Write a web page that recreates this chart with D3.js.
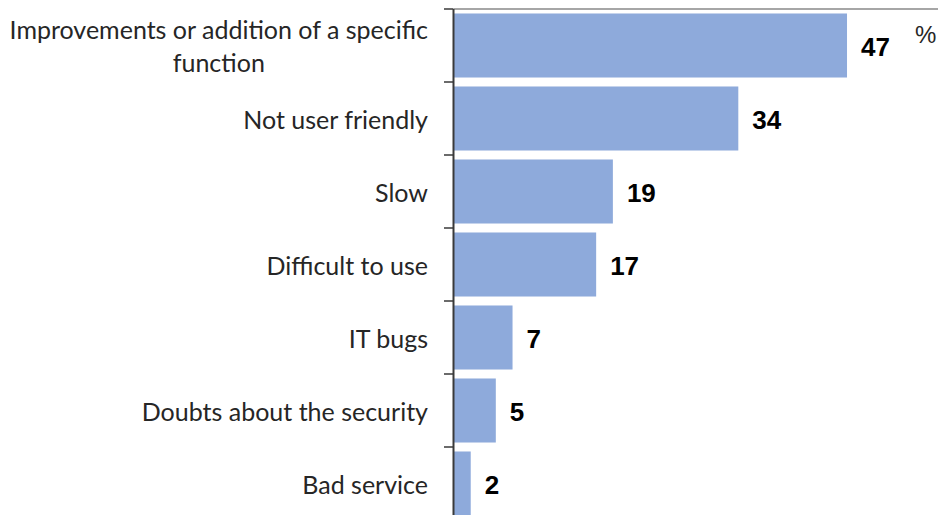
<!DOCTYPE html>
<html>
<head>
<meta charset="utf-8">
<script src="https://cdn.jsdelivr.net/npm/d3@7"></script>
<style>
  html, body { margin: 0; padding: 0; background: #fff; }
  svg { display: block; }
</style>
</head>
<body>
<svg id="chart" width="938" height="515"></svg>
<script>
// Reasons given, share of respondents (%)
const categories = [
  "Improvements or addition of a specific\nfunction",
  "Not user friendly",
  "Slow",
  "Difficult to use",
  "IT bugs",
  "Doubts about the security",
  "Bad service"
];
const values = [47, 34, 19, 17, 7, 5, 2];
const unitLabel = "%";

const svg = d3.select("#chart");
const W = 938, H = 515;
const axisX = 454;
const bandTop = 9, step = 73;

const x = d3.scaleLinear().domain([0, 58]).range([axisX, 939]);
const y = d3.scaleBand()
  .domain(categories)
  .range([bandTop, bandTop + step * categories.length])
  .paddingInner(0.123)
  .paddingOuter(0.0615);

const labelFont = "Lato, 'Open Sans', sans-serif";
const labelSize = 25;
const labelRight = 428;

// top border line
svg.append("line")
  .attr("x1", axisX).attr("x2", W)
  .attr("y1", bandTop).attr("y2", bandTop)
  .attr("stroke", "#a6a6a6").attr("stroke-width", 2);

// bars
svg.append("g").selectAll("rect")
  .data(categories)
  .join("rect")
  .attr("x", x(0))
  .attr("y", d => y(d))
  .attr("width", (d, i) => x(values[i]) - x(0))
  .attr("height", y.bandwidth())
  .attr("fill", "#8eaadb");

// category axis: line plus ticks at band boundaries
const axisG = svg.append("g");
axisG.append("line")
  .attr("x1", axisX - 0.5).attr("x2", axisX - 0.5)
  .attr("y1", bandTop).attr("y2", H)
  .attr("stroke", "#3a3a3a").attr("stroke-width", 2);
d3.range(categories.length + 1).forEach(i => {
  const ty = y.range()[0] + i * y.step();
  axisG.append("line")
    .attr("x1", axisX - 10).attr("x2", axisX - 0.5)
    .attr("y1", ty).attr("y2", ty)
    .attr("stroke", "#3a3a3a").attr("stroke-width", 1.5);
});

// category labels (multi-line labels centred as a block, right edge fixed)
const labelG = svg.append("g")
  .attr("font-family", labelFont)
  .attr("font-size", labelSize)
  .attr("fill", "#262626");
categories.forEach(c => {
  const lines = c.split("\n");
  const cy = y(c) + y.bandwidth() / 2;
  const lh = 33;
  const t = labelG.append("text")
    .attr("dominant-baseline", "central");
  lines.forEach((ln, j) => {
    t.append("tspan")
      .attr("y", cy + (j - (lines.length - 1) / 2) * lh)
      .text(ln);
  });
  if (lines.length === 1) {
    t.attr("text-anchor", "end").selectAll("tspan").attr("x", labelRight);
  } else {
    const widths = [];
    t.selectAll("tspan").each(function () { widths.push(this.getComputedTextLength()); });
    const cx = labelRight - d3.max(widths) / 2;
    t.attr("text-anchor", "middle").selectAll("tspan").attr("x", cx);
  }
});

// value labels
svg.append("g")
  .attr("font-family", "Arial, 'Liberation Sans', sans-serif")
  .attr("font-size", 26)
  .attr("font-weight", "bold")
  .attr("fill", "#000")
  .selectAll("text")
  .data(categories)
  .join("text")
  .attr("x", (d, i) => x(values[i]) + 14)
  .attr("y", d => y(d) + y.bandwidth() / 2 + 1)
  .attr("dominant-baseline", "central")
  .text((d, i) => values[i]);

// unit
svg.append("text")
  .attr("x", 915).attr("y", 34)
  .attr("dominant-baseline", "central")
  .attr("font-family", "Arial, 'Liberation Sans', sans-serif")
  .attr("font-size", 24)
  .attr("fill", "#262626")
  .text(unitLabel);
</script>
</body>
</html>
